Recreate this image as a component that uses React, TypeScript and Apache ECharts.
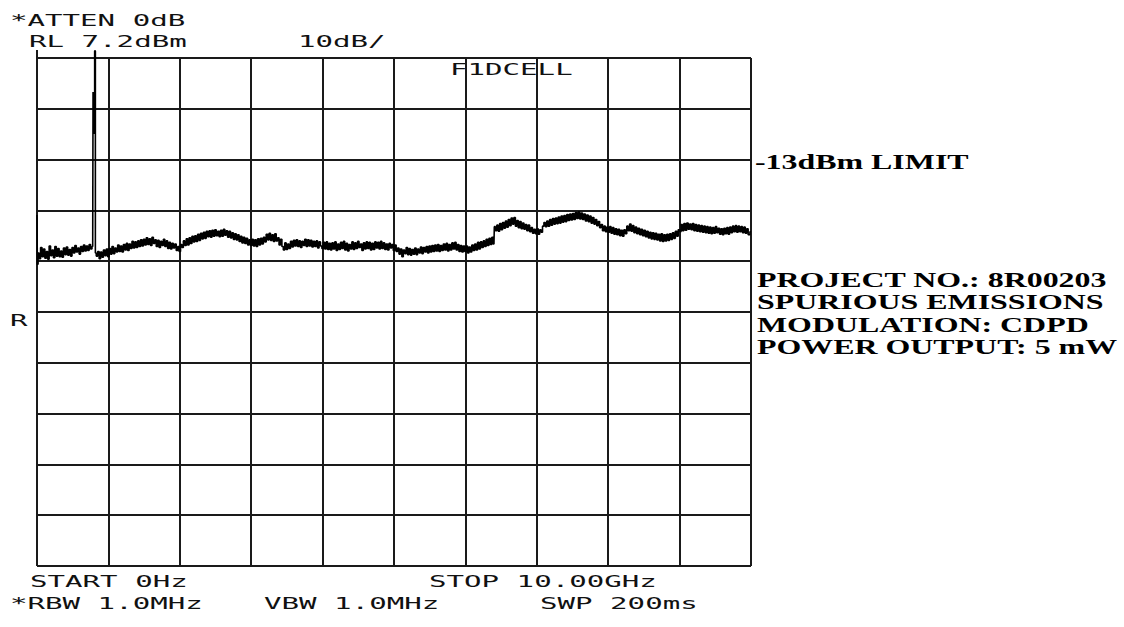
import React, { useEffect, useRef } from "react";
import * as echarts from "echarts";

// Spectrum analyser trace: [frequency GHz, level dBm]
const trace0to2: [number, number][] = [
  [0.0, -23.7], [0.01, -33.4], [0.02, -31.2], [0.04, -32.3], [0.06, -30.1], [0.08, -31.9],
  [0.1, -30.4], [0.12, -32.2], [0.14, -30.9], [0.16, -32.4], [0.18, -29.8], [0.2, -31.7],
  [0.22, -30.6], [0.24, -32.1], [0.26, -29.9], [0.28, -31.8], [0.3, -30.3], [0.32, -31.9],
  [0.34, -30.8], [0.36, -32.0], [0.38, -30.2], [0.4, -31.5], [0.42, -30.0], [0.44, -31.6],
  [0.46, -30.5], [0.48, -31.8], [0.5, -30.1], [0.52, -31.2], [0.54, -29.7], [0.56, -31.0],
  [0.58, -30.2], [0.6, -31.4], [0.62, -29.9], [0.64, -30.9], [0.66, -29.6], [0.68, -30.8],
  [0.7, -29.8], [0.72, -30.7], [0.74, -29.5], [0.76, -30.4], [0.78, -29.9],
  [0.785, -30.0], [0.785, 0.5], [0.8, -7.6], [0.815, 8.6], [0.82, -31.2],
  [0.84, -31.8], [0.86, -30.9], [0.88, -32.3], [0.9, -31.0], [0.92, -32.0], [0.94, -30.6],
  [0.96, -31.7], [0.98, -30.4], [1.0, -31.9], [1.02, -30.3], [1.04, -31.4], [1.06, -29.9],
  [1.08, -31.3], [1.1, -30.2], [1.12, -31.0], [1.14, -29.6], [1.16, -30.9], [1.18, -29.8],
  [1.2, -31.0], [1.22, -29.5], [1.24, -30.6], [1.26, -29.3], [1.28, -30.7], [1.3, -29.4],
  [1.32, -30.3], [1.34, -28.9], [1.36, -30.2], [1.38, -29.0], [1.4, -30.1], [1.42, -28.8],
  [1.44, -29.9], [1.46, -28.6], [1.48, -29.8], [1.5, -28.5], [1.52, -29.6], [1.54, -28.2],
  [1.56, -29.5], [1.58, -28.4], [1.6, -29.7], [1.62, -28.1], [1.64, -29.3], [1.66, -28.6],
  [1.68, -29.9], [1.7, -28.7], [1.72, -30.1], [1.74, -28.9], [1.76, -29.7], [1.78, -28.5],
  [1.8, -29.9], [1.82, -28.8], [1.84, -30.3], [1.86, -29.1], [1.88, -30.4], [1.9, -29.3],
  [1.92, -30.2], [1.94, -29.4], [1.96, -30.7], [1.98, -29.9],
];
const trace2to4: [number, number][] = [
  [2.0, -30.9], [2.02, -29.5], [2.04, -30.1], [2.06, -28.8], [2.08, -29.7], [2.1, -28.4],
  [2.12, -29.6], [2.14, -28.2], [2.16, -29.3], [2.18, -27.9], [2.2, -29.0], [2.22, -27.8],
  [2.24, -28.9], [2.26, -27.5], [2.28, -28.7], [2.3, -27.3], [2.32, -28.4], [2.34, -27.1],
  [2.36, -28.3], [2.38, -26.9], [2.4, -28.0], [2.42, -26.8], [2.44, -28.1], [2.46, -26.7],
  [2.48, -27.9], [2.5, -26.6], [2.52, -27.8], [2.54, -26.9], [2.56, -28.0], [2.58, -26.7],
  [2.6, -27.9], [2.62, -26.5], [2.64, -27.7], [2.66, -26.8], [2.68, -28.1], [2.7, -26.9],
  [2.72, -28.2], [2.74, -27.2], [2.76, -28.5], [2.78, -27.4], [2.8, -28.6], [2.82, -27.6],
  [2.84, -28.9], [2.86, -27.9], [2.88, -29.2], [2.9, -28.1], [2.92, -29.3], [2.94, -28.3],
  [2.96, -29.6], [2.98, -28.6],
  [3.0, -29.7], [3.02, -28.5], [3.04, -29.8], [3.06, -28.6], [3.08, -29.9], [3.1, -28.4],
  [3.12, -29.6], [3.14, -28.3], [3.16, -29.4], [3.18, -28.1], [3.2, -29.0], [3.22, -27.5],
  [3.24, -28.6], [3.26, -27.3], [3.28, -28.7], [3.3, -27.6], [3.32, -28.9], [3.34, -27.4],
  [3.36, -28.8], [3.38, -28.2], [3.4, -29.6], [3.42, -28.5], [3.44, -29.9], [3.46, -30.6],
  [3.48, -29.2], [3.5, -30.5], [3.52, -29.4], [3.54, -30.3], [3.56, -28.9], [3.58, -30.0],
  [3.6, -28.7], [3.62, -29.8], [3.64, -28.6], [3.66, -29.9], [3.68, -28.8], [3.7, -30.1],
  [3.72, -28.9], [3.74, -29.7], [3.76, -28.5], [3.78, -29.9], [3.8, -28.6], [3.82, -29.8],
  [3.84, -28.7], [3.86, -30.0], [3.88, -28.9], [3.9, -29.9], [3.92, -28.8], [3.94, -30.2],
  [3.96, -29.0], [3.98, -29.8],
];
const trace4to6: [number, number][] = [
  [4.0, -30.3], [4.02, -29.1], [4.04, -30.4], [4.06, -29.0], [4.08, -30.5], [4.1, -29.3],
  [4.12, -30.6], [4.14, -29.2], [4.16, -30.4], [4.18, -29.0], [4.2, -30.7], [4.22, -29.4],
  [4.24, -30.5], [4.26, -29.1], [4.28, -30.3], [4.3, -28.9], [4.32, -30.6], [4.34, -29.3],
  [4.36, -30.8], [4.38, -29.5], [4.4, -30.4], [4.42, -29.0], [4.44, -30.5], [4.46, -29.2],
  [4.48, -30.3], [4.5, -28.9], [4.52, -30.1], [4.54, -29.4], [4.56, -30.7], [4.58, -29.2],
  [4.6, -30.4], [4.62, -29.0], [4.64, -30.3], [4.66, -29.1], [4.68, -30.6], [4.7, -29.3],
  [4.72, -30.5], [4.74, -29.0], [4.76, -30.2], [4.78, -29.1], [4.8, -30.4], [4.82, -28.9],
  [4.84, -30.3], [4.86, -29.2], [4.88, -30.5], [4.9, -29.4], [4.92, -30.6], [4.94, -29.3],
  [4.96, -30.2], [4.98, -29.5],
  [5.0, -30.7], [5.02, -29.6], [5.04, -30.9], [5.06, -30.2], [5.08, -31.4], [5.1, -30.4],
  [5.12, -31.9], [5.14, -30.6], [5.16, -31.3], [5.18, -30.1], [5.2, -31.5], [5.22, -30.3],
  [5.24, -31.6], [5.26, -30.5], [5.28, -31.4], [5.3, -30.2], [5.32, -31.5], [5.34, -30.4],
  [5.36, -31.2], [5.38, -30.0], [5.4, -31.3], [5.42, -30.1], [5.44, -31.0], [5.46, -29.9],
  [5.48, -31.2], [5.5, -29.8], [5.52, -31.0], [5.54, -29.7], [5.56, -30.9], [5.58, -29.6],
  [5.6, -30.8], [5.62, -29.5], [5.64, -30.9], [5.66, -29.7], [5.68, -30.7], [5.7, -29.4],
  [5.72, -30.6], [5.74, -29.3], [5.76, -30.8], [5.78, -29.5], [5.8, -30.6], [5.82, -29.2],
  [5.84, -30.4], [5.86, -29.1], [5.88, -30.6], [5.9, -29.5], [5.92, -30.9], [5.94, -29.7],
  [5.96, -31.0], [5.98, -29.8],
];
const trace6to8: [number, number][] = [
  [6.0, -30.9], [6.02, -29.8], [6.04, -31.2], [6.06, -30.0], [6.08, -31.0], [6.1, -29.6],
  [6.12, -30.7], [6.14, -29.4], [6.16, -30.6], [6.18, -29.1], [6.2, -30.4], [6.22, -29.0],
  [6.24, -30.1], [6.26, -28.8], [6.28, -29.9], [6.3, -28.5], [6.32, -29.7], [6.34, -28.3],
  [6.36, -29.5], [6.38, -28.1], [6.4, -29.4],
  [6.41, -26.0], [6.43, -26.8], [6.45, -25.7], [6.47, -26.9], [6.49, -25.4], [6.51, -26.6],
  [6.53, -25.2], [6.55, -26.3], [6.57, -24.9], [6.59, -26.1], [6.61, -24.6], [6.63, -25.8],
  [6.65, -24.3], [6.67, -25.5], [6.69, -24.2], [6.71, -25.9], [6.73, -24.8], [6.75, -26.2],
  [6.77, -25.0], [6.79, -26.4], [6.81, -25.3], [6.83, -26.5], [6.85, -25.6], [6.87, -26.8],
  [6.89, -25.7], [6.91, -27.0], [6.93, -26.2], [6.95, -27.3], [6.97, -26.5], [6.99, -27.4],
  [7.01, -26.4], [7.03, -27.5], [7.05, -26.6], [7.07, -27.1], [7.09, -25.9], [7.11, -25.2],
  [7.13, -26.0], [7.15, -24.9], [7.17, -25.9], [7.19, -24.6], [7.21, -25.7], [7.23, -24.4],
  [7.25, -25.5], [7.27, -24.3], [7.29, -25.4], [7.31, -24.1], [7.33, -25.3], [7.35, -23.9],
  [7.37, -25.1], [7.39, -23.8], [7.41, -25.0], [7.43, -23.6], [7.45, -24.8], [7.47, -23.5],
  [7.49, -24.7], [7.51, -23.4], [7.53, -24.6], [7.55, -23.2], [7.57, -24.4], [7.59, -23.1],
  [7.61, -24.5], [7.63, -23.3], [7.65, -24.6], [7.67, -23.5], [7.69, -24.9], [7.71, -23.7],
  [7.73, -25.0], [7.75, -23.9], [7.77, -25.3], [7.79, -24.2], [7.81, -25.5], [7.83, -24.6],
  [7.85, -25.8], [7.87, -25.0], [7.89, -26.2], [7.91, -25.6], [7.93, -26.8], [7.95, -25.9],
  [7.97, -27.0], [7.99, -26.1],
];
const trace8to10: [number, number][] = [
  [8.01, -27.1], [8.03, -26.0], [8.05, -27.3], [8.07, -26.2], [8.09, -27.5], [8.11, -26.4],
  [8.13, -27.6], [8.15, -26.5], [8.17, -27.8], [8.19, -26.7], [8.21, -27.9], [8.23, -26.6],
  [8.25, -27.4], [8.27, -25.9], [8.29, -26.8], [8.31, -25.5], [8.33, -26.9], [8.35, -25.8],
  [8.37, -27.2], [8.39, -26.1], [8.41, -27.4], [8.43, -26.3], [8.45, -27.6], [8.47, -26.5],
  [8.49, -27.8], [8.51, -26.7], [8.53, -28.0], [8.55, -26.9], [8.57, -28.2], [8.59, -27.1],
  [8.61, -28.4], [8.63, -27.2], [8.65, -28.5], [8.67, -27.3], [8.69, -28.6], [8.71, -27.5],
  [8.73, -28.8], [8.75, -27.4], [8.77, -28.9], [8.79, -27.6], [8.81, -28.8], [8.83, -27.5],
  [8.85, -28.7], [8.87, -27.4], [8.89, -28.5], [8.91, -27.2], [8.93, -28.3], [8.95, -26.9],
  [8.97, -27.9], [8.99, -26.6],
  [9.01, -27.0], [9.03, -25.6], [9.05, -26.8], [9.07, -25.4], [9.09, -26.7], [9.11, -25.3],
  [9.13, -26.5], [9.15, -25.5], [9.17, -26.6], [9.19, -25.4], [9.21, -26.8], [9.23, -25.6],
  [9.25, -26.9], [9.27, -25.7], [9.29, -27.0], [9.31, -25.8], [9.33, -27.1], [9.35, -25.9],
  [9.37, -27.2], [9.39, -26.0], [9.41, -27.3], [9.43, -26.1], [9.45, -27.4], [9.47, -26.2],
  [9.49, -27.3], [9.51, -26.0], [9.53, -27.2], [9.55, -26.3], [9.57, -27.5], [9.59, -26.4],
  [9.61, -27.6], [9.63, -26.3], [9.65, -27.4], [9.67, -26.2], [9.69, -27.5], [9.71, -26.1],
  [9.73, -27.2], [9.75, -25.9], [9.77, -27.0], [9.79, -25.8], [9.81, -27.1], [9.83, -25.9],
  [9.85, -27.0], [9.87, -26.0], [9.89, -27.2], [9.91, -26.1], [9.93, -27.3], [9.95, -26.4],
  [9.97, -27.6], [10.0, -27.0],
];

const startGHz = 0;
const stopGHz = 10;
const refLevelDbm = 7.2;
const dbPerDiv = 10;
const divisions = 10;

const headerLines = ["*ATTEN 0dB", "RL 7.2dBm", "10dB/", "F1DCELL", "R"];
const footerLines = ["START 0Hz", "STOP 10.00GHz", "*RBW 1.0MHz", "VBW 1.0MHz", "SWP 200ms"];
const limitLabel = "-13dBm LIMIT";
const infoLines = [
  "PROJECT NO.: 8R00203",
  "SPURIOUS EMISSIONS",
  "MODULATION: CDPD",
  "POWER OUTPUT: 5 mW",
];

const MONO = '"DejaVu Sans Mono", "Liberation Mono", monospace';
const SERIF = '"Liberation Serif", "DejaVu Serif", serif';

function monoText(text: string, x: number, y: number) {
  return {
    type: "text",
    x,
    y,
    scaleX: 1.82,
    silent: true,
    style: {
      text,
      fontFamily: MONO,
      fontSize: 16,
      fill: "#111",
      textVerticalAlign: "middle",
      verticalAlign: "middle",
    },
  };
}

function serifText(text: string, x: number, y: number) {
  return {
    type: "text",
    x,
    y,
    scaleX: 1.52,
    silent: true,
    style: {
      text,
      fontFamily: SERIF,
      fontWeight: "bold",
      fontSize: 21,
      fill: "#000",
      textVerticalAlign: "middle",
      verticalAlign: "middle",
    },
  };
}

export default function App() {
  const ref = useRef<HTMLDivElement>(null);
  useEffect(() => {
    if (!ref.current) return;
    const chart = echarts.init(ref.current, undefined, { renderer: "svg" });
    const trace = [...trace0to2, ...trace2to4, ...trace4to6, ...trace6to8, ...trace8to10];
    const bottomDbm = refLevelDbm - dbPerDiv * divisions;
    const gridLine = { lineStyle: { color: "#1a1a1a", width: 2 } };
    chart.setOption({
      animation: false,
      backgroundColor: "#fff",
      grid: { left: 37, right: 373, top: 58, bottom: 61, show: false },
      xAxis: {
        type: "value",
        min: startGHz,
        max: stopGHz,
        interval: 1,
        axisLine: { show: false },
        axisTick: { show: false },
        axisLabel: { show: false },
        splitLine: { show: true, ...gridLine },
      },
      yAxis: [
        {
          type: "value",
          min: bottomDbm,
          max: refLevelDbm,
          axisLine: { show: false },
          axisTick: { show: false },
          axisLabel: { show: false },
          splitLine: { show: false },
        },
        {
          type: "value",
          min: 0,
          max: divisions,
          interval: 1,
          axisLine: { show: false },
          axisTick: { show: false },
          axisLabel: { show: false },
          splitLine: { show: true, ...gridLine },
        },
      ],
      series: [
        {
          type: "line",
          yAxisIndex: 0,
          data: trace,
          step: "middle",
          showSymbol: false,
          clip: false,
          lineStyle: { color: "#000", width: 1.6 },
          silent: true,
        },
      ],
      graphic: [
        { type: "line", shape: { x1: 37, y1: 50, x2: 37, y2: 58 }, style: { stroke: "#1a1a1a", lineWidth: 2 } },
        monoText(headerLines[0], 10, 21),
        monoText(headerLines[1], 29, 42),
        monoText(headerLines[2], 298, 42),
        monoText(headerLines[3], 450, 70),
        monoText(headerLines[4], 10, 321),
        monoText(footerLines[0], 30, 582),
        monoText(footerLines[1], 429, 582),
        monoText(footerLines[2], 10, 604),
        monoText(footerLines[3], 264, 604),
        monoText(footerLines[4], 540, 604),
        serifText(limitLabel, 755, 162),
        ...infoLines.map((t, i) => serifText(t, 757, 280 + i * 22.5)),
      ],
    });
    return () => chart.dispose();
  }, []);
  return (
    <div
      ref={ref}
      style={{ position: "absolute", left: 0, top: 0, width: 1124, height: 627 }}
    />
  );
}
